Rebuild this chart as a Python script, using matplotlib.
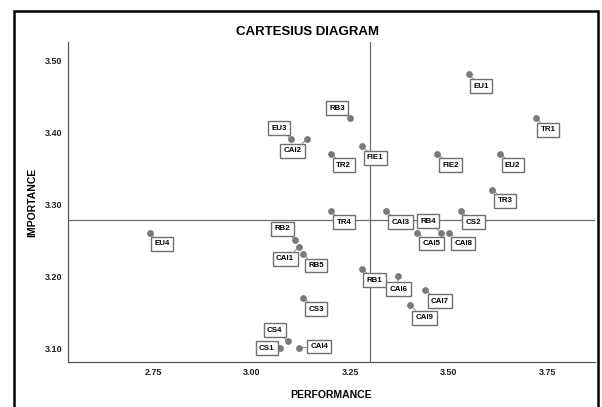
import matplotlib
matplotlib.use("Agg")
import matplotlib.pyplot as plt
from matplotlib.patches import Rectangle
import numpy as np

plt.rcParams['font.family'] = ['Liberation Sans', 'DejaVu Sans']
plt.rcParams['font.weight'] = 'bold'

# indicator codes, performance (x) and importance (y)
labels = ['EU1', 'EU2', 'EU3', 'EU4',
          'TR1', 'TR2', 'TR3', 'TR4',
          'RB1', 'RB2', 'RB3', 'RB4', 'RB5',
          'FIE1', 'FIE2',
          'CS1', 'CS2', 'CS3', 'CS4',
          'CAI1', 'CAI2', 'CAI3', 'CAI4', 'CAI5', 'CAI6', 'CAI7', 'CAI8', 'CAI9']
performance = [3.55, 3.63, 3.10, 2.74,
               3.72, 3.20, 3.61, 3.20,
               3.28, 3.11, 3.25, 3.48, 3.13,
               3.28, 3.47,
               3.07, 3.53, 3.13, 3.09,
               3.12, 3.14, 3.34, 3.12, 3.42, 3.37, 3.44, 3.50, 3.40]
importance = [3.48, 3.37, 3.39, 3.26,
              3.42, 3.37, 3.32, 3.29,
              3.21, 3.25, 3.42, 3.26, 3.23,
              3.38, 3.37,
              3.10, 3.29, 3.17, 3.11,
              3.24, 3.39, 3.29, 3.10, 3.26, 3.20, 3.18, 3.26, 3.16]

x_ticks = [2.75, 3.00, 3.25, 3.50, 3.75]
y_ticks = [3.10, 3.20, 3.30, 3.40, 3.50]

# where each label box sits relative to its point (pixels, y down)
label_offsets = {
    'EU1': (12.6, 11.6), 'TR1': (12.6, 12.2), 'RB3': (-13.5, -9.3),
    'FIE1': (13, 11.5), 'TR2': (13, 11.5), 'FIE2': (13.8, 11.5),
    'EU2': (12.5, 11.5), 'TR3': (12.8, 11.2), 'EU3': (-12.4, -10.9),
    'CAI2': (-14.4, 11.6), 'TR4': (13, 11), 'CAI3': (14.5, 11),
    'RB4': (-13, -11.5), 'CAI5': (14.3, 10.6), 'CAI8': (14.2, 10.6),
    'CS2': (12.8, 11), 'RB2': (-12.9, -11.2), 'CAI1': (-14.2, 11.6),
    'RB5': (13, 11.2), 'RB1': (12.3, 11.4), 'CAI6': (0.7, 13),
    'CAI7': (14.8, 10.7), 'CAI9': (14.7, 13), 'CS3': (13, 11.4),
    'CS4': (-12.7, -10.6), 'CS1': (-12.8, 0), 'CAI4': (19.9, -1.7),
    'EU4': (12.5, 11),
}

fig = plt.figure(figsize=(6.02, 4.07), dpi=100)
ax = fig.add_axes([68 / 602, 1 - 362 / 407, 527 / 602, 320 / 407])

ax.scatter(performance, importance, s=15, color='#7a7a7a', zorder=3)

# mean lines split the diagram into quadrants
ax.axvline(np.mean(performance), color='#6e6e6e', lw=0.9, zorder=1)
ax.axhline(np.mean(importance), color='#6e6e6e', lw=0.9, zorder=1)

for name, px, py in zip(labels, performance, importance):
    dx, dy = label_offsets[name]
    ax.annotate(name, (px, py), xytext=(dx, -dy), textcoords='offset pixels',
                ha='center', va='center', fontsize=5.7, fontweight='bold',
                bbox=dict(boxstyle='square,pad=0.42', fc='white', ec='#707070', lw=1.0),
                arrowprops=dict(arrowstyle='-', color='#7a7a7a', lw=0.6,
                                shrinkA=0, shrinkB=0),
                zorder=4)

ax.set_xlim(2.5325, 3.871)
ax.set_ylim(3.0806, 3.525)
ax.set_xticks(x_ticks)
ax.set_yticks(y_ticks)
ax.set_xticklabels([f'{v:.2f}' for v in x_ticks])
ax.set_yticklabels([f'{v:.2f}' for v in y_ticks])
ax.tick_params(length=0, labelsize=6.5, pad=4, colors='#222222')
for lab in ax.get_xticklabels() + ax.get_yticklabels():
    lab.set_fontweight('bold')

for side in ['top', 'right']:
    ax.spines[side].set_visible(False)
for side in ['left', 'bottom']:
    ax.spines[side].set_color('#555555')
    ax.spines[side].set_linewidth(0.9)

ax.set_xlabel('PERFORMANCE', fontsize=7.5, fontweight='bold')
ax.set_ylabel('IMPORTANCE', fontsize=7.5, fontweight='bold')
ax.xaxis.label.set_va('center')
ax.yaxis.label.set_va('center')
ax.xaxis.set_label_coords(0.5, -0.103)
ax.yaxis.set_label_coords(-0.068, 0.5)

fig.text(308 / 602, 1 - 32 / 407, 'CARTESIUS DIAGRAM', ha='center', va='center',
         fontsize=9.5, fontweight='bold')

# outer frame of the chart window
fig.patches.append(Rectangle((14 / 602, -0.05), 584 / 602, 1 - 11 / 407 + 0.05,
                             transform=fig.transFigure, fill=False,
                             ec='black', lw=1.8))

fig.savefig('out.png', dpi=100)
